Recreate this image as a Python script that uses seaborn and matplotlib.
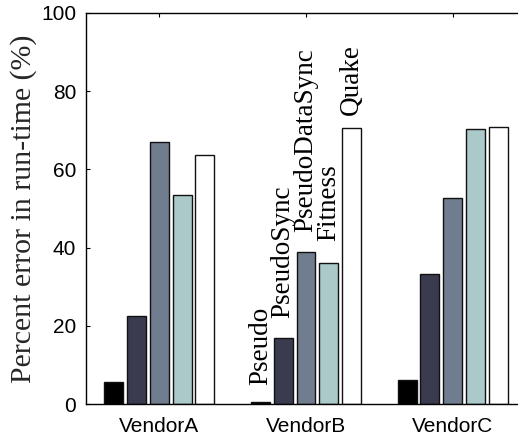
import matplotlib
matplotlib.use("Agg")
import matplotlib.pyplot as plt
import seaborn as sns
import pandas as pd

# Data: percent error in run-time per vendor and method
vendors = ["VendorA", "VendorB", "VendorC"]
methods = ["Pseudo", "PseudoSync", "PseudoDataSync", "Fitness", "Quake"]
vendor_a = [5.5, 22.5, 67.0, 53.5, 63.8]
vendor_b = [0.6, 17.0, 38.9, 36.1, 70.5]
vendor_c = [6.1, 33.3, 52.7, 70.3, 70.8]
yticks = [0, 20, 40, 60, 80, 100]

colors = ["#000000", "#3a3b4f", "#707d8f", "#abc9c8", "#ffffff"]

rows = []
for vendor, vals in zip(vendors, [vendor_a, vendor_b, vendor_c]):
    for m, v in zip(methods, vals):
        rows.append({"vendor": vendor, "method": m, "error": v})
df = pd.DataFrame(rows)

sns.set_style("white")
plt.rcParams["font.family"] = ["Liberation Sans", "DejaVu Sans"]

fig = plt.figure(figsize=(5.18, 4.36), dpi=100)
ax = fig.add_axes([86 / 518, 32 / 436, 440 / 518, 391 / 436])

sns.barplot(data=df, x="vendor", y="error", hue="method", order=vendors,
            hue_order=methods, palette=colors, width=0.777, gap=0.17,
            edgecolor="#111111", linewidth=1.0, saturation=1, legend=False,
            ax=ax)

ax.set_xlim(-0.5, 2.5)
ax.set_ylim(0, 100)
ax.set_yticks(yticks)
ax.set_xlabel("")
ax.set_ylabel("Percent error in run-time (%)", family="Liberation Serif",
              fontsize=21.5, labelpad=3)

for s in ax.spines.values():
    s.set_visible(True)
    s.set_color("black")
    s.set_linewidth(1.0)

ax.tick_params(axis="both", direction="in", length=3, width=0.8,
               labelsize=15, colors="black", top=True, right=True,
               left=True, bottom=True)
ax.tick_params(axis="y", pad=7)
ax.tick_params(axis="x", pad=9)

# Method names written above the VendorB bars
label_offset = [4.3, 5.0, 5.1, 5.6, 3.4]
b_idx = vendors.index("VendorB")
for i, m in enumerate(methods):
    bar = ax.containers[i][b_idx]
    xc = bar.get_x() + bar.get_width() / 2
    ax.text(xc, bar.get_height() + label_offset[i], m, rotation=90,
            ha="center", va="bottom", family="Liberation Serif",
            fontsize=19.5, color="black")

fig.savefig("out.png", dpi=100)
